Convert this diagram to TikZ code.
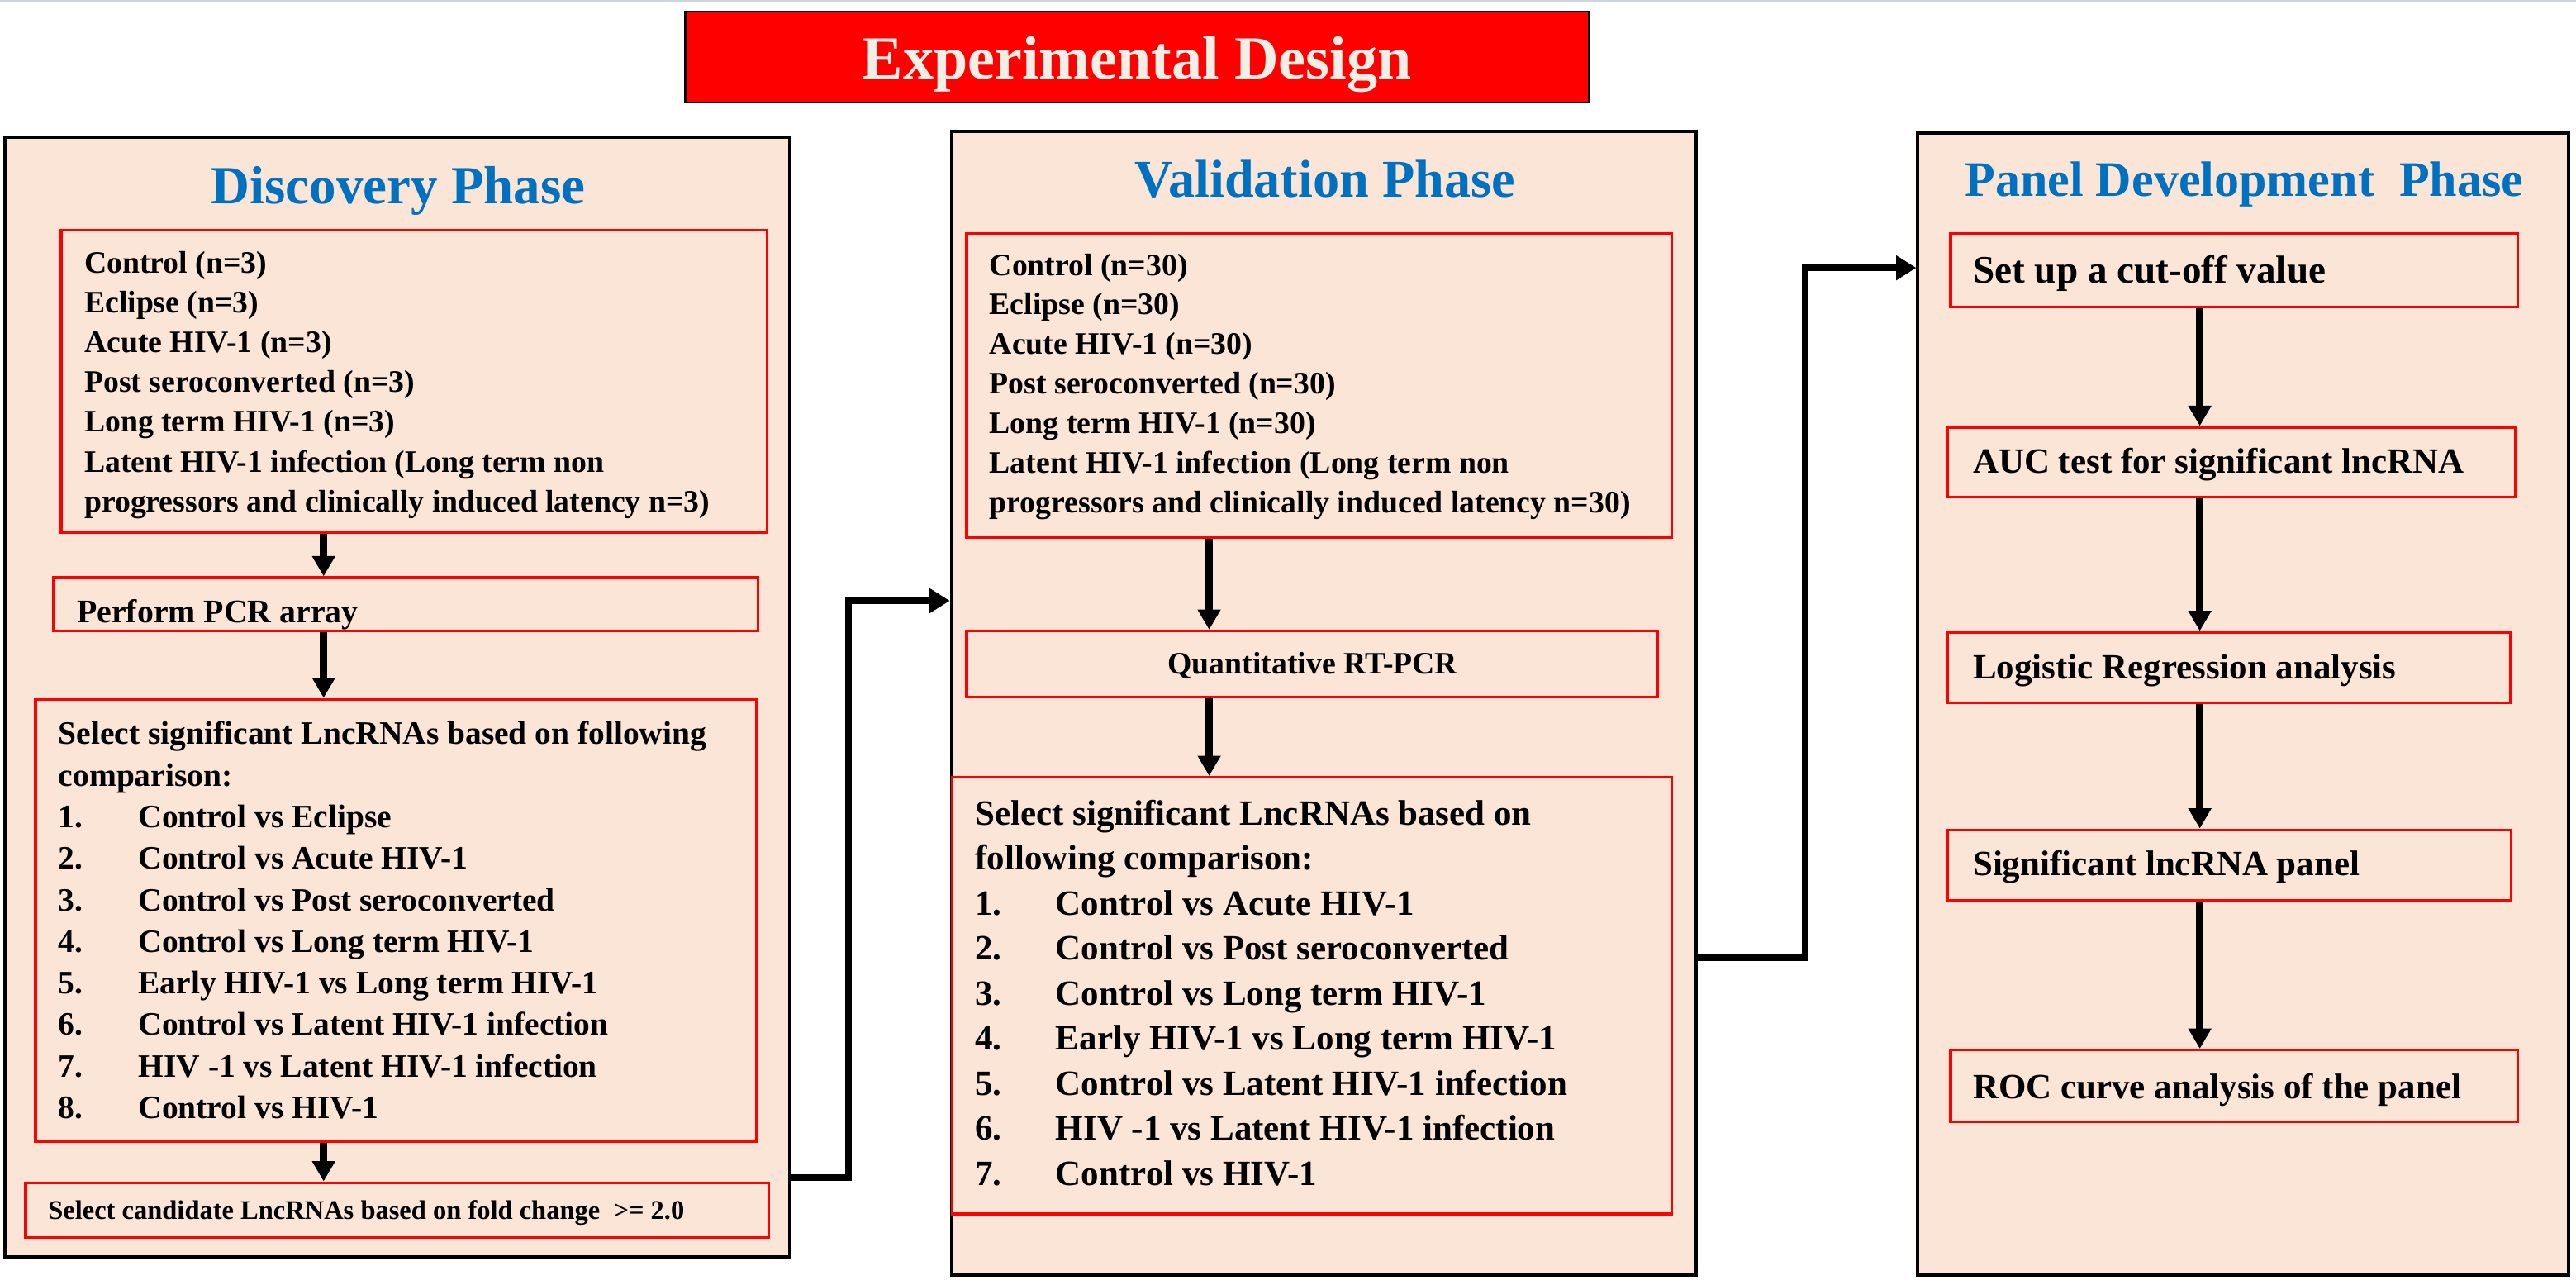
\documentclass[tikz,border=0pt]{standalone}
\usepackage{fontspec}
\setmainfont{Liberation Serif}
\usetikzlibrary{arrows.meta,fit}
\definecolor{peach}{RGB}{251,229,214}
\definecolor{phblue}{RGB}{0,112,192}
\definecolor{cream}{RGB}{242,240,230}
\definecolor{edgegray}{RGB}{205,212,222}
\newcommand{\tblines}[1]{\begin{tabular}[t]{@{}l@{}}#1\end{tabular}}
\newcommand{\tbnum}[2]{\begin{tabular}[t]{@{}p{#1}@{}l@{}}#2\end{tabular}}
\newcommand{\hdr}[1]{\multicolumn{2}{@{}l@{}}{#1}}
\begin{document}
\begin{tikzpicture}[x=0.02cm,y=-0.02cm,
  outerbox/.style={draw=black,line width=1pt,fill=peach,inner sep=0pt},
  redbox/.style={draw=red,line width=0.9pt,inner sep=0pt},
  titlebox/.style={draw=black,line width=0.8pt,fill=red,inner sep=0pt},
  txt/.style={inner sep=0pt,anchor=base west},
  phase/.style={inner sep=0pt,anchor=base,text=phblue},
  arr/.style={line width=2.6pt,-{Triangle[length=7pt,width=7.6pt]}},
  conn/.style={line width=2.3pt,-{Triangle[length=7pt,width=8.2pt]}}]
\useasboundingbox[fill=white] (0,0) rectangle (1568,781.5);
\draw[edgegray,line width=0.6pt] (0,0.4) -- (1568,0.4);

% title
\node[titlebox,fit={(417,7)(967.3,62.4)}] (T) {};
\node[inner sep=0pt,anchor=base,text=cream,font=\fontsize{21.2pt}{24pt}\selectfont\bfseries] (Ttxt) at (692,48) {Experimental Design};

% outer phase boxes
\node[outerbox,fit={(3,83.7)(480.6,765)}] (D) {};
\node[outerbox,fit={(579,80)(1032.5,776)}] (V) {};
\node[outerbox,fit={(1167.3,81)(1563.5,776)}] (P) {};

\node[phase,font=\fontsize{18.6pt}{20pt}\selectfont\bfseries] (Dt) at (242.4,124) {Discovery Phase};
\node[phase,font=\fontsize{18.4pt}{20pt}\selectfont\bfseries] (Vt) at (806.5,120) {Validation Phase};
\node[phase,font=\fontsize{17.2pt}{20pt}\selectfont\bfseries] (Pt) at (1366,119.2) {Panel Development\ \ Phase};

% Discovery boxes
\node[redbox,fit={(37.2,140)(466.8,324)}] (D1) {};
\node[redbox,fit={(32.7,351.5)(461.2,384)}] (D2) {};
\node[redbox,fit={(21.6,425.5)(460.5,694.5)}] (D3) {};
\node[redbox,fit={(15.6,719.7)(468,753)}] (D4) {};

\node[txt,font=\fontsize{10.8pt}{13.8pt}\selectfont\bfseries] (D1t) at (51,166) {\tblines{%
Control (n=3)\\
Eclipse (n=3)\\
Acute HIV-1 (n=3)\\
Post seroconverted (n=3)\\
Long term HIV-1 (n=3)\\
Latent HIV-1 infection (Long term non\\
progressors and clinically induced latency n=3)}};
\node[txt,font=\fontsize{11.4pt}{13pt}\selectfont\bfseries] (D2t) at (46.5,379) {Perform PCR array};
\node[txt,font=\fontsize{11.3pt}{14.4pt}\selectfont\bfseries] (D3t) at (35.3,453) {\tbnum{27.7pt}{%
\hdr{Select significant LncRNAs based on following}\\
\hdr{comparison:}\\
1. & Control vs Eclipse\\
2. & Control vs Acute HIV-1\\
3. & Control vs Post seroconverted\\
4. & Control vs Long term HIV-1\\
5. & Early HIV-1 vs Long term HIV-1\\
6. & Control vs Latent HIV-1 infection\\
7. & HIV -1 vs Latent HIV-1 infection\\
8. & Control vs HIV-1}};
\node[txt,font=\fontsize{9.3pt}{11pt}\selectfont\bfseries] (D4t) at (29,742) {Select candidate LncRNAs based on fold change\ \ >= 2.0};

% Validation boxes
\node[redbox,fit={(588.4,142)(1017.6,327)}] (V1) {};
\node[redbox,fit={(588.4,384)(1009,424)}] (V2) {};
\node[redbox,fit={(579.5,473)(1017.6,738.7)}] (V3) {};

\node[txt,font=\fontsize{10.8pt}{13.7pt}\selectfont\bfseries] (V1t) at (602,167.5) {\tblines{%
Control (n=30)\\
Eclipse (n=30)\\
Acute HIV-1 (n=30)\\
Post seroconverted (n=30)\\
Long term HIV-1 (n=30)\\
Latent HIV-1 infection (Long term non\\
progressors and clinically induced latency n=30)}};
\node[inner sep=0pt,anchor=base,font=\fontsize{10.8pt}{13pt}\selectfont\bfseries] (V2t) at (799,410) {Quantitative RT-PCR};
\node[txt,font=\fontsize{12.3pt}{15.6pt}\selectfont\bfseries] (V3t) at (593.3,502) {\tbnum{27.9pt}{%
\hdr{Select significant LncRNAs based on}\\
\hdr{following comparison:}\\
1. & Control vs Acute HIV-1\\
2. & Control vs Post seroconverted\\
3. & Control vs Long term HIV-1\\
4. & Early HIV-1 vs Long term HIV-1\\
5. & Control vs Latent HIV-1 infection\\
6. & HIV -1 vs Latent HIV-1 infection\\
7. & Control vs HIV-1}};

% Panel boxes
\node[redbox,fit={(1187.3,142)(1532.4,187)}] (P1) {};
\node[redbox,fit={(1185.6,260)(1530.9,302.4)}] (P2) {};
\node[redbox,fit={(1185.6,384.8)(1528,427.7)}] (P3) {};
\node[redbox,fit={(1185.6,505)(1528.3,547.7)}] (P4) {};
\node[redbox,fit={(1187.3,639)(1532.4,682.8)}] (P5) {};

\node[txt,font=\fontsize{13.5pt}{15pt}\selectfont\bfseries] (P1t) at (1200.6,172) {Set up a cut-off value};
\node[txt,font=\fontsize{12.3pt}{15pt}\selectfont\bfseries] (P2t) at (1200.6,287.7) {AUC test for significant lncRNA};
\node[txt,font=\fontsize{12.3pt}{15pt}\selectfont\bfseries] (P3t) at (1200.6,413) {Logistic Regression analysis};
\node[txt,font=\fontsize{12.3pt}{15pt}\selectfont\bfseries] (P4t) at (1200.6,533) {Significant lncRNA panel};
\node[txt,font=\fontsize{12.3pt}{15pt}\selectfont\bfseries] (P5t) at (1200.6,668.4) {ROC curve analysis of the panel};

% arrow columns
\coordinate (dx) at (197,0);
\coordinate (vx) at (736,0);
\coordinate (px) at (1339,0);

\draw[arr] (D1.south -| dx) -- (D2.north -| dx);
\draw[arr] (D2.south -| dx) -- (D3.north -| dx);
\draw[arr] (D3.south -| dx) -- (D4.north -| dx);

\draw[arr] (V1.south -| vx) -- (V2.north -| vx);
\draw[arr] (V2.south -| vx) -- (V3.north -| vx);

\draw[arr] (P1.south -| px) -- (P2.north -| px);
\draw[arr] (P2.south -| px) -- (P3.north -| px);
\draw[arr] (P3.south -| px) -- (P4.north -| px);
\draw[arr] (P4.south -| px) -- (P5.north -| px);

% phase connectors
\coordinate (c1a) at (516.4,716.6);
\coordinate (c1b) at (516.4,365.6);
\coordinate (c2a) at (1099,583);
\coordinate (c2b) at (1099,163);
\draw[conn] (c1a -| D.east) -- (c1a) -- (c1b) -- (c1b -| V.west);
\draw[conn] (c2a -| V.east) -- (c2a) -- (c2b) -- (c2b -| P.west);
\end{tikzpicture}
\end{document}
